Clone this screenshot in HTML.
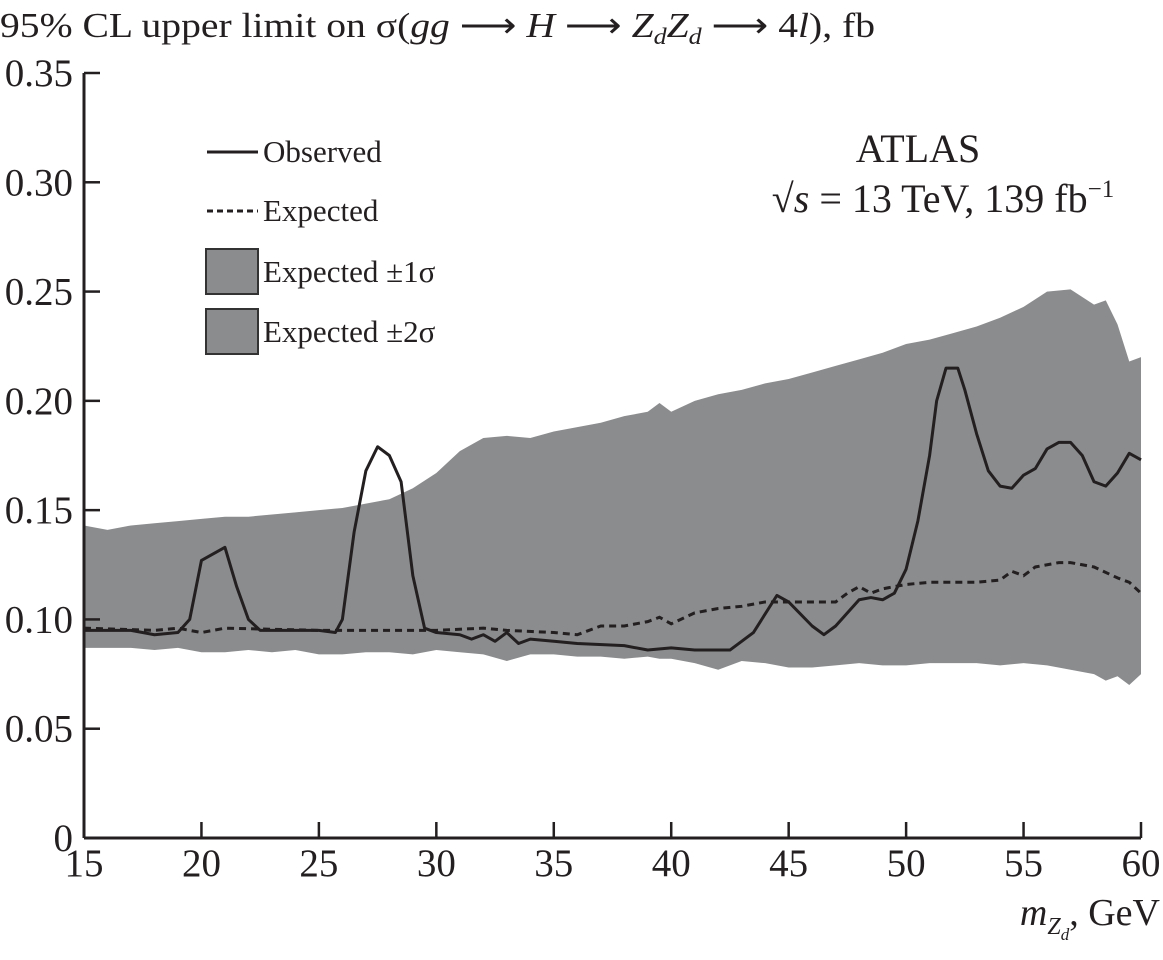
<!DOCTYPE html>
<html><head><meta charset="utf-8"><style>
body{margin:0;background:#fff;}
svg text{font-family:"Liberation Serif",serif;fill:#231f20;}
</style></head><body>
<svg id="chart" width="1163" height="955" xmlns="http://www.w3.org/2000/svg">
<text x="0" y="37" font-size="35" textLength="875" lengthAdjust="spacingAndGlyphs">95% CL upper limit on σ(<tspan font-style="italic">gg</tspan> ⟶ <tspan font-style="italic">H</tspan> ⟶ <tspan font-style="italic">Z</tspan><tspan font-style="italic" font-size="23" dy="7">d</tspan><tspan font-style="italic" dy="-7">Z</tspan><tspan font-style="italic" font-size="23" dy="7">d</tspan><tspan dy="-7"> ⟶ 4</tspan><tspan font-style="italic">l</tspan>), fb</text>
<g id="band"></g>
<g id="lines"></g>
<g id="axes"></g>
<g>
<line x1="207" y1="152" x2="258" y2="152" stroke="#231f20" stroke-width="3"/>
<text x="263" y="162" font-size="31">Observed</text>
<line x1="207" y1="211" x2="258" y2="211" stroke="#231f20" stroke-width="3" stroke-dasharray="6,4"/>
<text x="263" y="221" font-size="31">Expected</text>
<rect x="206" y="249" width="52" height="45" fill="#8b8c8e" stroke="#333" stroke-width="2"/>
<text x="263" y="282" font-size="31">Expected ±1σ</text>
<rect x="206" y="309" width="52" height="45" fill="#8b8c8e" stroke="#333" stroke-width="2"/>
<text x="263" y="342" font-size="31">Expected ±2σ</text>
</g>
<text x="918" y="162" font-size="40" text-anchor="middle">ATLAS</text>
<text x="943" y="212" font-size="40" text-anchor="middle">√<tspan font-style="italic">s</tspan> = 13 TeV, 139 fb<tspan font-size="25" dy="-15">−1</tspan></text>
<text x="1160" y="925" font-size="38" text-anchor="end"><tspan font-style="italic">m</tspan><tspan font-style="italic" font-size="24" dy="9">Z</tspan><tspan font-style="italic" font-size="17" dy="6">d</tspan><tspan dy="-15">, GeV</tspan></text>
</svg>
<script>
const bandX=[15,16,17,18,19,20,21,22,23,24,25,26,27,28,29,30,31,32,33,34,35,36,37,38,39,39.5,40,41,42,43,44,45,46,47,48,49,50,51,52,53,54,55,56,57,58,58.5,59,59.5,60];
const bandUp=[0.143,0.141,0.143,0.144,0.145,0.146,0.147,0.147,0.148,0.149,0.150,0.151,0.153,0.155,0.160,0.167,0.177,0.183,0.184,0.183,0.186,0.188,0.190,0.193,0.195,0.199,0.195,0.200,0.203,0.205,0.208,0.210,0.213,0.216,0.219,0.222,0.226,0.228,0.231,0.234,0.238,0.243,0.250,0.251,0.244,0.246,0.235,0.218,0.220];
const bandLo=[0.087,0.087,0.087,0.086,0.087,0.085,0.085,0.086,0.085,0.086,0.084,0.084,0.085,0.085,0.084,0.086,0.085,0.084,0.081,0.084,0.084,0.083,0.083,0.082,0.083,0.082,0.082,0.080,0.077,0.081,0.080,0.078,0.078,0.079,0.080,0.079,0.079,0.080,0.080,0.080,0.079,0.080,0.079,0.077,0.075,0.072,0.074,0.070,0.075];
const obsX=[15,17,18,19,19.5,20,21,21.5,22,22.5,25,25.7,26,26.5,27,27.5,28,28.5,29,29.5,30,31,31.5,32,32.5,33,33.5,34,35,36,38,39,40,41,42,42.5,43,43.5,44.5,45,46,46.5,47,48,48.5,49,49.5,50,50.5,51,51.3,51.7,52.2,52.5,53,53.5,54,54.5,55,55.5,56,56.5,57,57.5,58,58.5,59,59.5,60];
const obsY=[0.095,0.095,0.093,0.094,0.100,0.127,0.133,0.115,0.100,0.095,0.095,0.094,0.100,0.140,0.168,0.179,0.175,0.163,0.120,0.096,0.094,0.093,0.091,0.093,0.090,0.094,0.089,0.091,0.090,0.089,0.088,0.086,0.087,0.086,0.086,0.086,0.090,0.094,0.111,0.108,0.097,0.093,0.097,0.109,0.110,0.109,0.112,0.123,0.145,0.175,0.200,0.215,0.215,0.205,0.185,0.168,0.161,0.160,0.166,0.169,0.178,0.181,0.181,0.175,0.163,0.161,0.167,0.176,0.173];
const expX=[15,18,19,20,21,25,30,32,33,35,36,37,38,39,39.5,40,41,42,43,44,45,46,47,47.5,48,48.5,49,50,51,53,54,54.5,55,55.5,56.5,57,58,59,59.5,60];
const expY=[0.096,0.095,0.096,0.094,0.096,0.095,0.095,0.096,0.095,0.094,0.093,0.097,0.097,0.099,0.101,0.098,0.103,0.105,0.106,0.108,0.108,0.108,0.108,0.112,0.115,0.112,0.114,0.116,0.117,0.117,0.118,0.122,0.120,0.124,0.126,0.126,0.124,0.119,0.117,0.112];
const xTicks=[15,20,25,30,35,40,45,50,55,60];
const yTicks=[0,0.05,0.10,0.15,0.20,0.25,0.30,0.35];
const yLabels=["0","0.05","0.10","0.15","0.20","0.25","0.30","0.35"];
const NS="http://www.w3.org/2000/svg";
const X0=84,X1=1141,Y0=838,Y1=73;
function sx(m){return X0+(m-15)/(60-15)*(X1-X0);}
function sy(v){return Y0-v/0.35*(Y0-Y1);}
function mk(tag,attrs,parent){const e=document.createElementNS(NS,tag);for(const k in attrs)e.setAttribute(k,attrs[k]);parent.appendChild(e);return e;}
let d=bandX.map((m,i)=>(i?'L':'M')+sx(m)+','+sy(bandUp[i])).join('');
for(let i=bandX.length-1;i>=0;i--)d+='L'+sx(bandX[i])+','+sy(bandLo[i]);
const band=mk('path',{d:d+'Z',fill:'#8b8c8e'},document.getElementById('band'));


const lines=document.getElementById('lines');
const ep=mk('polyline',{points:expX.map((m,i)=>sx(m)+','+sy(expY[i])).join(' '),fill:'none',stroke:'#231f20','stroke-width':3,'stroke-dasharray':'7,5'},lines);


const op=mk('polyline',{points:obsX.map((m,i)=>sx(m)+','+sy(obsY[i])).join(' '),fill:'none',stroke:'#231f20','stroke-width':3,'stroke-linejoin':'round'},lines);


const ax=document.getElementById('axes');
const ya=mk('line',{x1:X0,y1:Y1,x2:X0,y2:Y0,stroke:'#231f20','stroke-width':3},ax);


const xa=mk('line',{x1:X0,y1:Y0,x2:X1,y2:Y0,stroke:'#231f20','stroke-width':3},ax);


yTicks.forEach((v,i)=>{
 const t=mk('line',{x1:X0,y1:sy(v),x2:X0+16,y2:sy(v),stroke:'#231f20','stroke-width':2.5},ax);
 
 
 const l=mk('text',{x:73,y:sy(v)+13,'font-size':39,'text-anchor':'end'},ax);
 l.textContent=yLabels[i];
 
 
});
xTicks.forEach(m=>{
 const t=mk('line',{x1:sx(m),y1:Y0,x2:sx(m),y2:Y0-16,stroke:'#231f20','stroke-width':2.5},ax);
 
 
 const l=mk('text',{x:sx(m),y:876,'font-size':39,'text-anchor':'middle'},ax);
 l.textContent=m;
 
 
});
</script>
</body></html>
